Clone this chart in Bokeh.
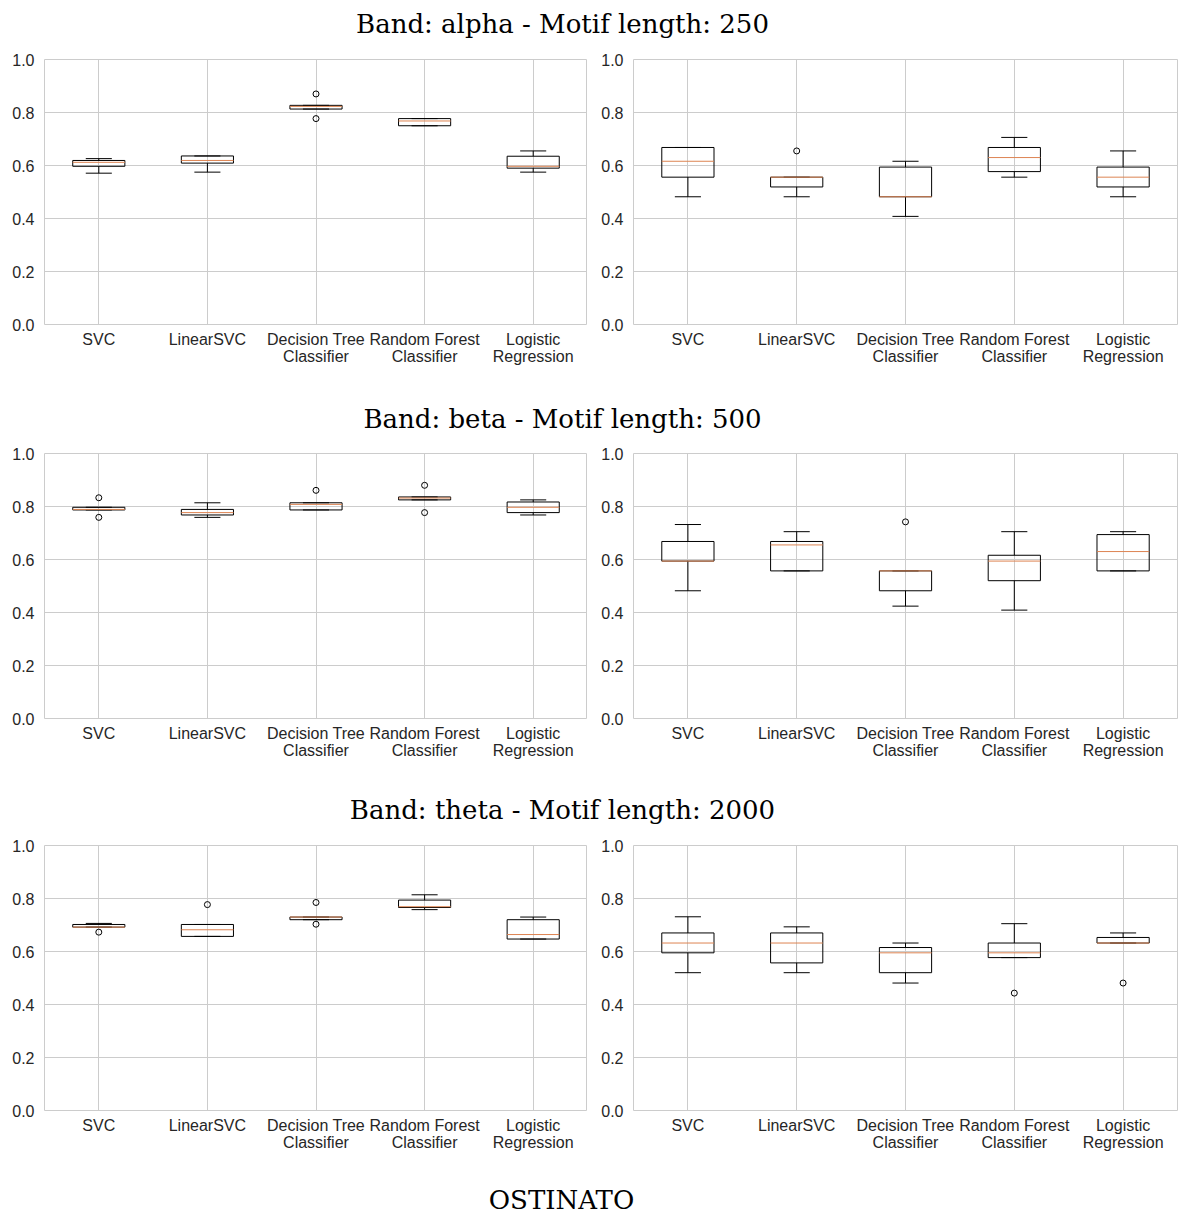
from bokeh.plotting import figure
from bokeh.layouts import column, row
from bokeh.models import Range1d, FixedTicker, NumeralTickFormatter
from bokeh.core.properties import value
from bokeh.embed import file_html
from bokeh.resources import INLINE

classifiers = ["SVC", "LinearSVC", "Decision Tree\nClassifier",
               "Random Forest\nClassifier", "Logistic\nRegression"]
positions = [1, 2, 3, 4, 5]
titles = ["Band: alpha - Motif length: 250",
          "Band: beta - Motif length: 500",
          "Band: theta - Motif length: 2000"]
footer = "OSTINATO"
y_ticks = [0.0, 0.2, 0.4, 0.6, 0.8, 1.0]

# ---- alpha, left panel
alpha_l_whislo = [0.571, 0.575, 0.813, 0.750, 0.575]
alpha_l_q1 = [0.597, 0.609, 0.813, 0.750, 0.590]
alpha_l_med = [0.612, 0.619, 0.823, 0.768, 0.597]
alpha_l_q3 = [0.619, 0.636, 0.827, 0.777, 0.635]
alpha_l_whishi = [0.626, 0.636, 0.827, 0.777, 0.655]
alpha_l_fliers = [[], [], [0.870, 0.777], [], []]

# ---- alpha, right panel
alpha_r_whislo = [0.482, 0.482, 0.408, 0.556, 0.482]
alpha_r_q1 = [0.556, 0.519, 0.482, 0.577, 0.519]
alpha_r_med = [0.616, 0.556, 0.482, 0.630, 0.556]
alpha_r_q3 = [0.668, 0.556, 0.594, 0.668, 0.594]
alpha_r_whishi = [0.668, 0.556, 0.616, 0.706, 0.655]
alpha_r_fliers = [[], [0.655], [], [], []]

# ---- beta, left panel
beta_l_whislo = [0.787, 0.759, 0.787, 0.825, 0.768]
beta_l_q1 = [0.787, 0.768, 0.787, 0.825, 0.777]
beta_l_med = [0.789, 0.777, 0.808, 0.832, 0.797]
beta_l_q3 = [0.797, 0.789, 0.814, 0.836, 0.817]
beta_l_whishi = [0.797, 0.814, 0.814, 0.836, 0.825]
beta_l_fliers = [[0.833, 0.759], [], [0.861], [0.880, 0.777], []]

# ---- beta, right panel
beta_r_whislo = [0.482, 0.557, 0.424, 0.409, 0.557]
beta_r_q1 = [0.594, 0.557, 0.482, 0.520, 0.557]
beta_r_med = [0.594, 0.655, 0.557, 0.594, 0.630]
beta_r_q3 = [0.668, 0.668, 0.557, 0.616, 0.694]
beta_r_whishi = [0.732, 0.705, 0.557, 0.705, 0.705]
beta_r_fliers = [[], [], [0.742], [], []]

# ---- theta, left panel
theta_l_whislo = [0.692, 0.657, 0.720, 0.758, 0.647]
theta_l_q1 = [0.692, 0.657, 0.720, 0.766, 0.647]
theta_l_med = [0.692, 0.682, 0.730, 0.769, 0.664]
theta_l_q3 = [0.702, 0.702, 0.730, 0.794, 0.720]
theta_l_whishi = [0.706, 0.702, 0.730, 0.814, 0.730]
theta_l_fliers = [[0.673], [0.777], [0.785, 0.703], [], []]

# ---- theta, right panel
theta_r_whislo = [0.520, 0.520, 0.481, 0.577, 0.632]
theta_r_q1 = [0.595, 0.557, 0.520, 0.577, 0.632]
theta_r_med = [0.632, 0.632, 0.595, 0.595, 0.632]
theta_r_q3 = [0.670, 0.670, 0.615, 0.632, 0.653]
theta_r_whishi = [0.731, 0.693, 0.632, 0.705, 0.670]
theta_r_fliers = [[], [], [], [0.443], [0.481]]

GRID = "#cccccc"
LABEL = "#262626"
MEDIAN = "#dd8452"
SANS = "Liberation Sans"
SERIF = "DejaVu Serif"
BOX_HALF = 0.24
CAP_HALF = 0.12


def panel(whislo, q1, med, q3, whishi, fliers, left_border, right_border, frame_w):
    p = figure(frame_width=frame_w, frame_height=265,
               min_border_left=left_border, min_border_right=right_border,
               min_border_top=10, min_border_bottom=66,
               x_range=Range1d(0.5, 5.5), y_range=Range1d(0, 1),
               output_backend="svg", toolbar_location=None,
               background_fill_color="white", border_fill_color="white")
    p.outline_line_color = GRID
    p.outline_line_width = 1
    xs = positions
    # whiskers
    p.segment(x0=xs, y0=q3, x1=xs, y1=whishi, line_color="black", line_width=1)
    p.segment(x0=xs, y0=whislo, x1=xs, y1=q1, line_color="black", line_width=1)
    # caps
    p.segment(x0=[x - CAP_HALF for x in xs], y0=whishi,
              x1=[x + CAP_HALF for x in xs], y1=whishi, line_color="black", line_width=1)
    p.segment(x0=[x - CAP_HALF for x in xs], y0=whislo,
              x1=[x + CAP_HALF for x in xs], y1=whislo, line_color="black", line_width=1)
    # boxes
    p.quad(left=[x - BOX_HALF for x in xs], right=[x + BOX_HALF for x in xs],
           bottom=q1, top=q3, fill_color=None, line_color="black", line_width=1)
    # medians
    p.segment(x0=[x - BOX_HALF for x in xs], y0=med,
              x1=[x + BOX_HALF for x in xs], y1=med, line_color=MEDIAN, line_width=1)
    # fliers
    fx, fy = [], []
    for x, fl in zip(xs, fliers):
        for v in fl:
            fx.append(x)
            fy.append(v)
    if fx:
        p.scatter(x=fx, y=fy, marker="circle", size=6, fill_color=None,
                  line_color="black", line_width=1)

    p.xaxis.ticker = FixedTicker(ticks=positions)
    p.xaxis.major_label_overrides = {pos: lab for pos, lab in zip(positions, classifiers)}
    p.yaxis.ticker = FixedTicker(ticks=y_ticks)
    p.yaxis.formatter = NumeralTickFormatter(format="0.0")
    for ax in (p.xaxis, p.yaxis):
        ax.axis_line_color = None
        ax.major_tick_line_color = None
        ax.minor_tick_line_color = None
        ax.major_tick_out = 0
        ax.major_tick_in = 0
        ax.minor_tick_out = 0
        ax.minor_tick_in = 0
        ax.major_label_text_font = SANS
        ax.major_label_text_font_size = "16px"
        ax.major_label_text_color = LABEL
    p.yaxis.major_label_standoff = 10
    p.xaxis.major_label_standoff = 6
    p.xaxis.major_label_text_line_height = 1.05
    p.xgrid.ticker = FixedTicker(ticks=positions)
    p.ygrid.ticker = FixedTicker(ticks=y_ticks)
    p.grid.grid_line_color = GRID
    p.grid.grid_line_width = 1
    return p


def text_strip(txt, height, baseline_from_top, cx=562):
    t = figure(width=1184, height=height, x_range=Range1d(0, 1184),
               y_range=Range1d(0, height), x_axis_location=None, y_axis_location=None,
               min_border=0, output_backend="svg", toolbar_location=None,
               background_fill_color="white", border_fill_color="white")
    t.outline_line_color = None
    t.grid.visible = False
    t.text(x=[cx], y=[height - baseline_from_top], text=[txt],
           text_align="center", text_baseline="alphabetic",
           text_font=value(SERIF), text_font_size="26px", text_color="black")
    return t


def panel_row(l, r):
    pl = panel(*l, left_border=44, right_border=0, frame_w=543)
    pr = panel(*r, left_border=46, right_border=7, frame_w=544)
    return row(pl, pr)


t1 = text_strip(titles[0], 49, 23)
r1 = panel_row((alpha_l_whislo, alpha_l_q1, alpha_l_med, alpha_l_q3, alpha_l_whishi, alpha_l_fliers),
               (alpha_r_whislo, alpha_r_q1, alpha_r_med, alpha_r_q3, alpha_r_whishi, alpha_r_fliers))
t2 = text_strip(titles[1], 53, 28)
r2 = panel_row((beta_l_whislo, beta_l_q1, beta_l_med, beta_l_q3, beta_l_whishi, beta_l_fliers),
               (beta_r_whislo, beta_r_q1, beta_r_med, beta_r_q3, beta_r_whishi, beta_r_fliers))
t3 = text_strip(titles[2], 51, 25)
r3 = panel_row((theta_l_whislo, theta_l_q1, theta_l_med, theta_l_q3, theta_l_whishi, theta_l_fliers),
               (theta_r_whislo, theta_r_q1, theta_r_med, theta_r_q3, theta_r_whishi, theta_r_fliers))
t4 = text_strip(footer, 37, 23, cx=561)

layout = column(t1, r1, t2, r2, t3, r3, t4)
open("out.html", "w").write(file_html(layout, INLINE))
